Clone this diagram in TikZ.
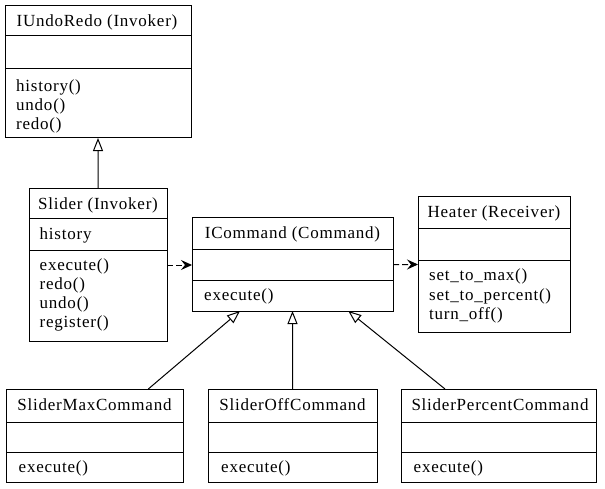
\documentclass[tikz,border=0pt]{standalone}
\usepackage{fontspec}
\setmainfont{Liberation Serif}[LetterSpace=4.5]
\usetikzlibrary{arrows.meta}
\begin{document}
\begin{tikzpicture}[x=1bp,y=-1bp,
  every node/.style={font=\fontsize{17bp}{19.3bp}\selectfont},
  cls/.style={draw, line width=1bp, inner sep=0pt, outer sep=0pt, anchor=north west},
  div/.style={line width=1bp},
  ttl/.style={anchor=base, inner sep=0pt},
  mem/.style={anchor=base west, inner sep=0pt},
  inherit/.style={line width=1bp, -{Triangle[open,length=13bp,width=10bp]}},
  dep/.style={line width=1bp, dash pattern=on 6bp off 3bp, -{Stealth[length=11bp,width=10bp,inset=4bp]}}]
\useasboundingbox (0,0) rectangle (605,489);

% IUndoRedo
\node[cls, minimum width=186bp, minimum height=132bp] (iundo) at (5,6) {};
\draw[div] (5,36) -- (191,36);
\draw[div] (5,69) -- (191,69);
\node[ttl] (iundo-t) at (97,27) {IUndoRedo (Invoker)};
\node[mem] (iundo-m1) at (16,91.5) {history()};
\node[mem] (iundo-m2) at (16,110.8) {undo()};
\node[mem] (iundo-m3) at (16,130) {redo()};

% Slider
\node[cls, minimum width=138bp, minimum height=152bp] (slider) at (29,189) {};
\draw[div] (29,219) -- (167,219);
\draw[div] (29,250) -- (167,250);
\node[ttl] (slider-t) at (98,210) {Slider (Invoker)};
\node[mem] (slider-a1) at (39.5,239.5) {history};
\node[mem] (slider-m1) at (39.5,270.5) {execute()};
\node[mem] (slider-m2) at (39.5,289.5) {redo()};
\node[mem] (slider-m3) at (39.5,308.5) {undo()};
\node[mem] (slider-m4) at (39.5,327.5) {register()};

% ICommand
\node[cls, minimum width=201bp, minimum height=93bp] (icmd) at (192,218) {};
\draw[div] (192,249) -- (393,249);
\draw[div] (192,280) -- (393,280);
\node[ttl] (icmd-t) at (292.5,238.7) {ICommand (Command)};
\node[mem] (icmd-m1) at (204,300) {execute()};

% Heater
\node[cls, minimum width=152bp, minimum height=135bp] (heater) at (418,197) {};
\draw[div] (418,228) -- (570,228);
\draw[div] (418,260) -- (570,260);
\node[ttl] (heater-t) at (494,217.5) {Heater (Receiver)};
\node[mem] (heater-m1) at (429,280.7) {set\_to\_max()};
\node[mem] (heater-m2) at (429,300) {set\_to\_percent()};
\node[mem] (heater-m3) at (429,319.3) {turn\_off()};

% SliderMaxCommand
\node[cls, minimum width=177bp, minimum height=93bp] (smax) at (6,389) {};
\draw[div] (6,422) -- (183,422);
\draw[div] (6,452) -- (183,452);
\node[ttl] (smax-t) at (94.5,410) {SliderMaxCommand};
\node[mem] (smax-m1) at (18.5,472.7) {execute()};

% SliderOffCommand
\node[cls, minimum width=169bp, minimum height=93bp] (soff) at (208,389) {};
\draw[div] (208,422) -- (377,422);
\draw[div] (208,452) -- (377,452);
\node[ttl] (soff-t) at (292.5,410) {SliderOffCommand};
\node[mem] (soff-m1) at (221,472.7) {execute()};

% SliderPercentCommand
\node[cls, minimum width=195bp, minimum height=93bp] (sper) at (401,389) {};
\draw[div] (401,422) -- (596,422);
\draw[div] (401,452) -- (596,452);
\node[ttl] (sper-t) at (500,410) {SliderPercentCommand};
\node[mem] (sper-m1) at (413.5,472.7) {execute()};

% connectors
\draw[inherit] (slider.north) -- (iundo.south);
\draw[inherit] ([xshift=53.8bp]smax.north) -- ([xshift=-52.5bp]icmd.south);
\draw[inherit] (soff.north) -- (icmd.south);
\draw[inherit] ([xshift=-53.5bp]sper.north) -- ([xshift=55.8bp]icmd.south);
\draw[dep] (slider.east) -- (slider.east -| icmd.west);
\draw[dep] (icmd.east) -- (heater.west);
\end{tikzpicture}
\end{document}
